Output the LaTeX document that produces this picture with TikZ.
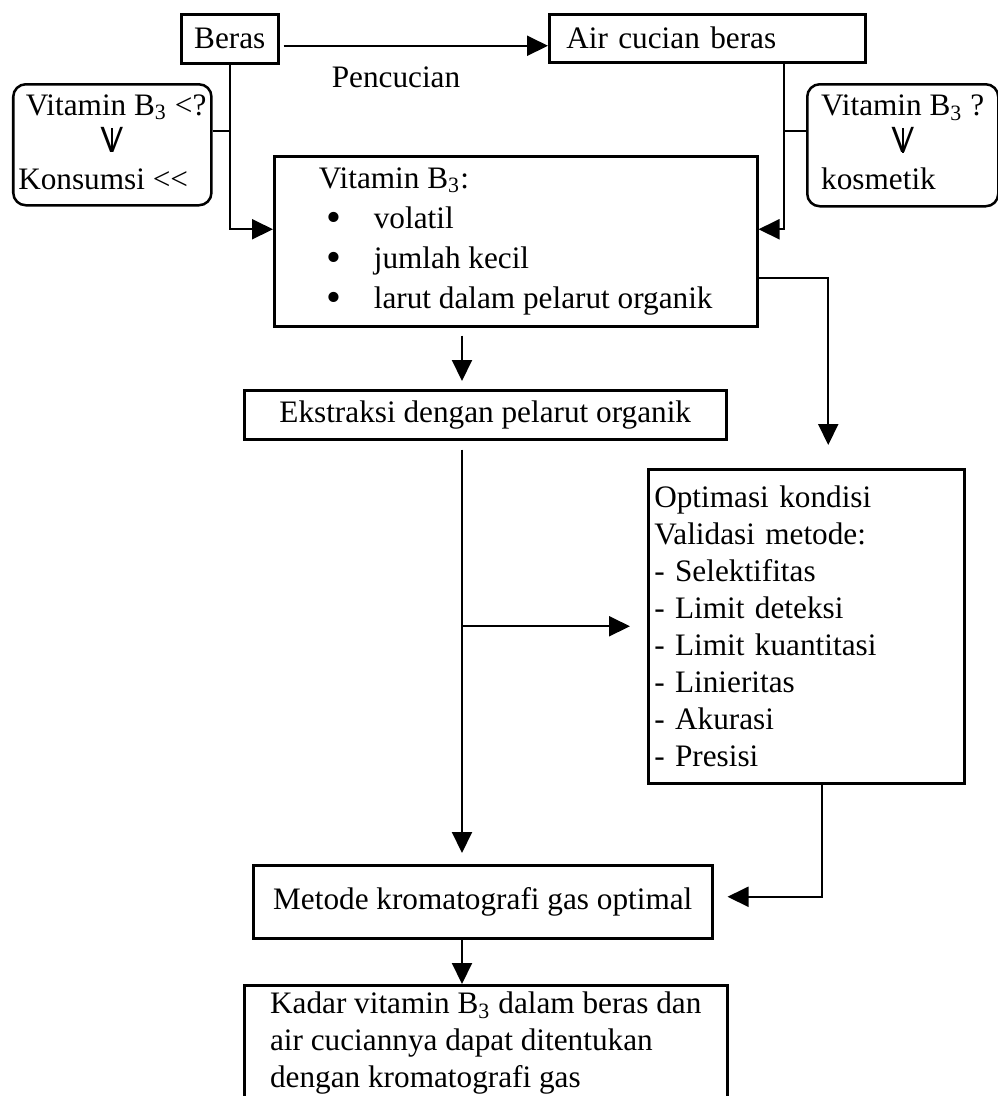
\documentclass[tikz,border=0pt]{standalone}
\usepackage{fontspec}
\setmainfont{Liberation Serif}
\usetikzlibrary{arrows.meta}
\newcommand{\vdown}{{\fontsize{14.5}{14.8}\selectfont\ooalign{\sffamily V\cr\hidewidth\rule{0.9pt}{9.8pt}\hidewidth\cr}}}
\newcommand{\bigbullet}{\raisebox{-1.2pt}{\fontsize{17}{16}\selectfont\textbullet}}

\begin{document}
\begin{tikzpicture}[x=0.4pt, y=-0.4pt,
        font=\fontsize{12.5}{14.8}\selectfont,
        box/.style={draw, line width=1pt, anchor=north west, inner sep=2pt},
        rbox/.style={box, rounded corners=5pt},
        line/.style={line width=0.8pt},
        arr/.style={line, -{Triangle[length=8.4pt, width=8pt]}}]
        \useasboundingbox (0,0) rectangle (998,1096);
        \coordinate (spine) at (462,0);
        \node[box, minimum width=38.8pt, minimum height=19.6pt] (beras) at (180,13) {Beras};
        \node[box, minimum width=126.4pt, minimum height=19.2pt, inner xsep=6.8pt, text width=112.8pt, align=left] (air) at (548,13) {Air cucian beras};
        \node (pencucian) at (396,77) {Pencucian};
        \node[rbox, minimum width=76.4pt, minimum height=48.4pt] (konsumsi) at (12,83) {\begin{tabular}{@{}l@{}}\hspace*{3pt}Vitamin B\textsubscript{3} <?\\ \multicolumn{1}{@{}c@{}}{\vdown}\\ Konsumsi <\kern0pt<\end{tabular}};
        \node[rbox, minimum width=76.4pt, minimum height=48.8pt] (kosmetik) at (806,83) {\begin{tabular}{@{}l@{}}Vitamin B\textsubscript{3} ?\\ \multicolumn{1}{@{}c@{}}{\vdown}\\ kosmetik\end{tabular}};
        \node[box, minimum width=193.2pt, minimum height=68pt, align=left, font=\fontsize{12.5}{16}\selectfont] (vit) at (273,155) {Vitamin B\textsubscript{3}:\\ \hspace*{3pt}\bigbullet\hspace{13pt}volatil\\ \hspace*{3pt}\bigbullet\hspace{13pt}jumlah kecil\\ \hspace*{3pt}\bigbullet\hspace{13pt}larut dalam pelarut organik};
        \node[box, minimum width=192.8pt, minimum height=19.6pt] (ekstraksi) at (243,389) {Ekstraksi dengan pelarut organik};
        \node[box, minimum width=126.4pt, minimum height=125.6pt, inner xsep=2.4pt, text width=121.6pt, align=left] (optimasi) at (647,468) {Optimasi kondisi\\ Validasi metode:\\ - Selektifitas\\ - Limit deteksi\\ - Limit kuantitasi\\ - Linieritas\\ - Akurasi\\ - Presisi};
        \node[box, minimum width=183.6pt, minimum height=29.2pt] (metode) at (252,864) {Metode kromatografi gas optimal};
        \node[box, minimum width=193.2pt, minimum height=46.4pt, align=left] (kadar) at (243,984) {Kadar vitamin B\textsubscript{3} dalam beras dan\\ air cuciannya dapat ditentukan\\ dengan kromatografi gas};
        \draw[arr, shorten <=1.6pt] ([yshift=-2.8pt]beras.east) -- ([yshift=-2.8pt]beras.east -| air.west);
        \draw[arr] (beras.south) |- ([yshift=4.8pt]vit.west);
        \draw[line] ([yshift=5.4pt]konsumsi.east) -| (beras.south);
        \draw[arr] ([xshift=-33.2pt]air.south east) |- ([yshift=4.8pt]vit.east);
        \draw[line] ([yshift=5.6pt]kosmetik.west) -| ([xshift=-33.2pt]air.south east);
        \draw[arr, shorten >=9.2pt] ([yshift=-14.8pt]vit.east) -| ([xshift=8.8pt]optimasi.north);
        \draw[arr, shorten <=3.2pt, shorten >=3.2pt] (vit.south -| spine) -- (ekstraksi.north -| spine);
        \draw[arr, shorten <=3.6pt, shorten >=4.4pt] (ekstraksi.south -| spine) -- (metode.north -| spine);
        \draw[arr, shorten >=6.8pt] (optimasi.west -| spine) -- (optimasi.west);
        \draw[arr, shorten >=5.6pt] ([xshift=6.4pt]optimasi.south) |- ([yshift=2pt]metode.east);
        \draw[arr] (metode.south -| spine) -- (kadar.north -| spine);
    \end{tikzpicture}
\end{document}
